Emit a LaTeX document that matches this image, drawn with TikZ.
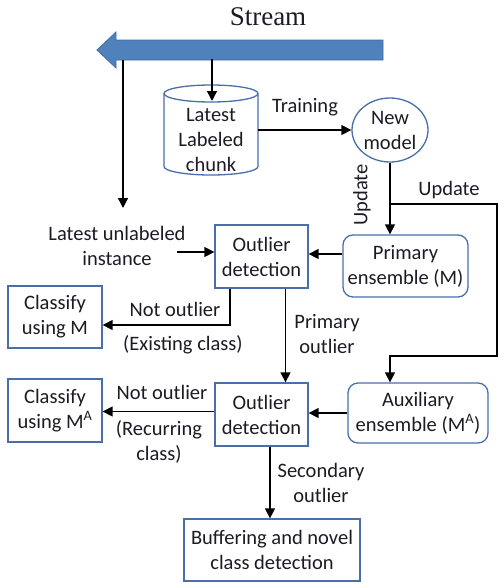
\documentclass[tikz,border=0pt]{standalone}
\usepackage{fontspec}
\setmainfont{Carlito}
\newfontfamily\titlefont{Liberation Serif}
\usetikzlibrary{arrows.meta,shapes.geometric,calc}
\definecolor{boxblue}{HTML}{4A6EA8}
\definecolor{streamfill}{HTML}{4F81BD}
\definecolor{streamedge}{HTML}{3F6CA8}
\definecolor{txt}{HTML}{1E1A24}
\begin{document}
\begin{tikzpicture}[x=1pt,y=-1pt,
  font=\fontsize{20.5}{25}\selectfont, text=txt,
  box/.style={draw=boxblue, line width=1.3pt, align=center, inner sep=0pt},
  rbox/.style={box, rounded corners=10pt},
  lbl/.style={align=center, inner sep=0pt},
  arr/.style={line width=1.4pt, -{Triangle[length=10pt,width=10pt]}},
  ln/.style={line width=1.4pt}]
\useasboundingbox (0,0) rectangle (499,582);

% title
\node[lbl, font=\titlefont\fontsize{27}{30}\selectfont] (title) at (268,17) {Stream};

% stream arrow
\fill[streamfill, draw=streamedge, line width=0.8pt]
  (97,50) -- (116,32) -- (116,40) -- (383,40) -- (383,60) -- (116,60) -- (116,68) -- cycle;
\coordinate (sL) at (123,60);
\coordinate (sC) at (212,59);

% cylinder
\node[minimum width=94pt, minimum height=90pt, inner sep=0pt] (chunk) at (211,130) {};
\draw[boxblue, line width=1.3pt]
  (164,93.5) -- (164,166.5) arc[start angle=180, end angle=360, x radius=47pt, y radius=8.5pt]
  -- (258,93.5);
\draw[boxblue, line width=1.3pt] (211,93.5) ellipse[x radius=47pt, y radius=8.5pt];
\node[lbl] (chunktxt) at (211,140) {Latest\\Labeled\\chunk};
\coordinate (chunktop) at (212,101);

% new model
\node[box, ellipse, minimum width=76pt, minimum height=64pt] (newmodel) at (390,130) {New\\model};

% boxes
\node[box, minimum width=93pt, minimum height=63pt] (out1) at (261.5,256.5) {Outlier\\detection};
\node[rbox, minimum width=125pt, minimum height=62pt] (primary) at (405.5,266) {Primary\\ensemble (M)};
\node[box, minimum width=94pt, minimum height=62pt] (classM) at (55,317) {Classify\\using M};
\node[box, minimum width=93pt, minimum height=63pt] (out2) at (261.5,414.5) {Outlier\\detection};
\node[rbox, minimum width=140pt, minimum height=60pt] (aux) at (418,413) {Auxiliary\\ensemble (M\textsuperscript{A})};
\node[box, minimum width=94pt, minimum height=63pt] (classMA) at (55,410.5) {Classify\\using M\textsuperscript{A}};
\node[box, minimum width=176pt, minimum height=62pt] (buffer) at (272,550) {Buffering and novel\\class detection};

\node[lbl] (unl) at (117,246) {Latest unlabeled\\instance};

% connectors
\draw[arr] (sC) -- (chunktop);
\coordinate (instend) at (123,208);
\draw[arr] (sL) -- (instend);
\draw[arr] (chunk.east) -- (newmodel.west);
\node[lbl] (training) at (305,107) {Training};

\coordinate (br) at (newmodel.south |- 0,204);
\coordinate (c1) at (497,204);
\coordinate (c2) at (497,356);
\coordinate (c3) at (390,356);
\draw[arr] (newmodel.south) -- (newmodel.south |- primary.north);
\draw[arr] (br) -- (c1) -- (c2) -- (c3) -- (c3 |- aux.north);
\node[lbl, rotate=90] (upd1) at (362,195) {Update};
\node[lbl] (upd2) at (449,190) {Update};

\coordinate (uin) at (177,252);
\draw[arr] (uin) -- (uin -| out1.west);
\draw[arr] ([yshift=12pt]primary.west) -- ([yshift=12pt]primary.west -| out1.east);

\draw[arr] ([xshift=-31.5pt]out1.south) |- ([yshift=-8pt]classM.east);
\node[lbl] (no1) at (175,309) {Not outlier};
\node[lbl] (ex) at (183,345) {(Existing class)};

\draw[arr] ([xshift=24pt]out1.south) -- ([xshift=24pt]out2.north);
\node[lbl] (po) at (327,334) {Primary\\outlier};

\draw[arr] (aux.west) -- (aux.west -| out2.east);
\draw[arr] ([yshift=3pt]out2.west) -- ([yshift=3pt]out2.west -| classMA.east);
\node[lbl] (no2) at (162,392) {Not outlier};
\node[lbl] (rc) at (159,441.5) {(Recurring\\class)};

\draw[arr] ([xshift=8.5pt]out2.south) -- ([xshift=8.5pt]out2.south |- buffer.north);
\node[lbl] (so) at (321,483) {Secondary\\outlier};
\end{tikzpicture}
\end{document}
